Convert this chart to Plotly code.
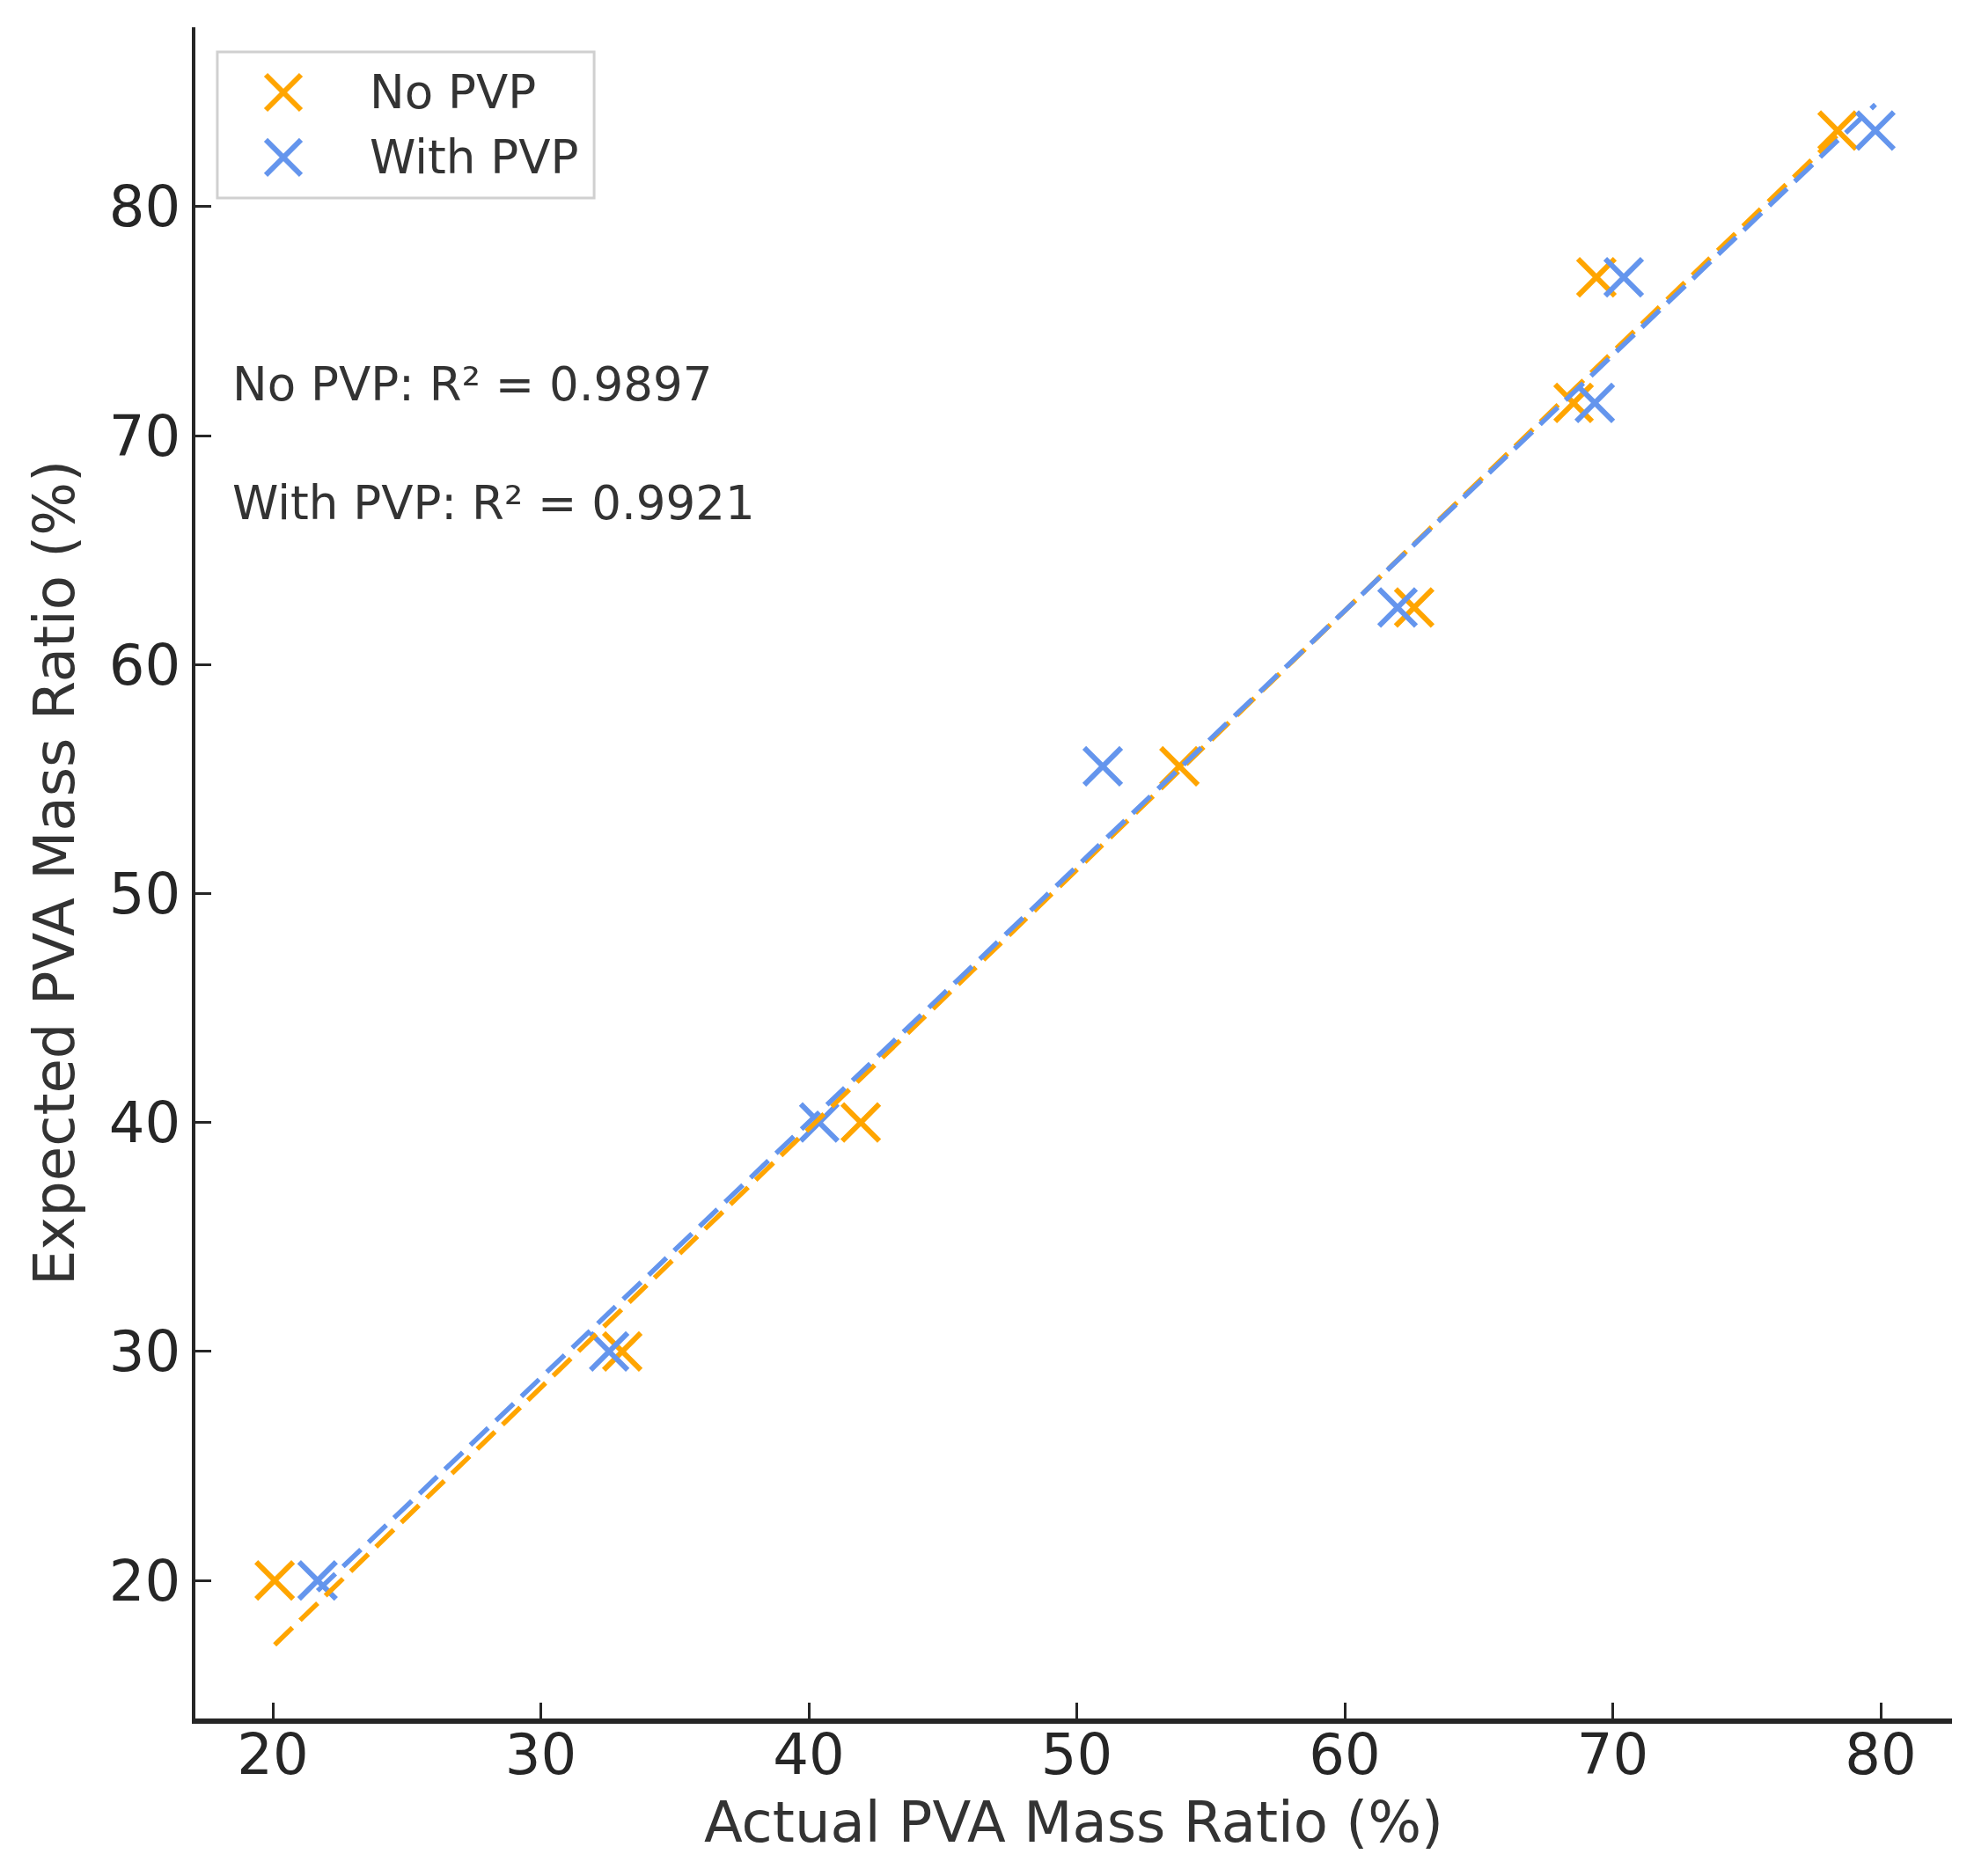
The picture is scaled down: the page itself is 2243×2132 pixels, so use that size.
import numpy as np
import plotly.graph_objects as go

# expected PVA mass ratio (%), same for both series
expected = [20.0, 30.0, 40.0, 55.56, 62.5, 71.43, 76.92, 83.33]
# actual PVA mass ratio (%)
actual_no_pvp = [20.07, 33.04, 41.94, 53.83, 62.59, 68.54, 69.39, 78.39]
actual_with_pvp = [21.67, 32.55, 40.39, 50.97, 61.97, 69.33, 70.41, 79.80]

series_names = ["No PVP", "With PVP"]
r2_labels = ["No PVP: R² = 0.9897", "With PVP: R² = 0.9921"]

ORANGE = "#FFA500"
BLUE = "#6495ED"
TXT = "#333333"
AX = "#262626"
FONT = "DejaVu Sans"

fig = go.Figure()

for name, xs, col in zip(series_names, [actual_no_pvp, actual_with_pvp], [ORANGE, BLUE]):
    fig.add_trace(go.Scatter(x=xs, y=expected, mode="markers", name=name, showlegend=False,
                             marker=dict(symbol="x-thin", size=42, color=col,
                                         line=dict(width=6, color=col))))

# least-squares fit lines, drawn on top of the markers
for xs, col in [(actual_no_pvp, ORANGE), (actual_with_pvp, BLUE)]:
    xa = np.array(xs)
    k, b = np.polyfit(xa, np.array(expected), 1)
    xl = np.array([xa.min(), xa.max()])
    fig.add_trace(go.Scatter(x=xl, y=k * xl + b, mode="lines", showlegend=False,
                             line=dict(color=col, width=5.5, dash="28px,12px")))

for txt, yy in zip(r2_labels, [0.789, 0.7186]):
    fig.add_annotation(text=txt, xref="paper", yref="paper", x=0.02, y=yy,
                       xanchor="left", yanchor="middle", showarrow=False,
                       font=dict(size=53, color=TXT, family=FONT))

# hand-made legend (plotly caps legend marker size, the original has big X's)
fig.add_shape(type="rect", xref="paper", yref="paper", x0=0.0125, x1=0.227,
              y0=0.899, y1=0.9854, line=dict(color="#d0d0d0", width=3),
              fillcolor="rgba(255,255,255,0.8)", layer="above")
for name, col, yy in zip(series_names, [ORANGE, BLUE], [0.9615, 0.923]):
    for sgn in (1, -1):
        fig.add_shape(type="line", xref="paper", yref="paper",
                      xsizemode="pixel", ysizemode="pixel",
                      xanchor=0.0501, yanchor=yy,
                      x0=-20, x1=20, y0=-20 * sgn, y1=20 * sgn,
                      line=dict(color=col, width=6), layer="above")
    fig.add_annotation(text=name, xref="paper", yref="paper", x=0.0982, y=yy,
                       xanchor="left", yanchor="middle", showarrow=False,
                       font=dict(size=53, color=TXT, family=FONT))

axis_common = dict(showgrid=False, zeroline=False, showline=True, linecolor=AX,
                   ticks="inside", ticklen=18, tickwidth=3, tickcolor=AX,
                   tickfont=dict(size=64, color=AX, family=FONT),
                   tickvals=[20, 30, 40, 50, 60, 70, 80], mirror=False)

fig.update_xaxes(range=[17.11, 82.66], linewidth=6, ticklabelstandoff=-20,
                 title=dict(text="Actual PVA Mass Ratio (%)", standoff=20,
                            font=dict(size=64, color=TXT, family=FONT)),
                 **axis_common)
fig.update_yaxes(range=[13.97, 87.84], linewidth=4,
                 title=dict(text="Expected PVA Mass Ratio (%)", standoff=19,
                            font=dict(size=64, color=TXT, family=FONT)),
                 **axis_common)

fig.update_layout(
    width=2243, height=2132,
    paper_bgcolor="white", plot_bgcolor="white",
    margin=dict(l=214, r=33, t=23, b=187),
    font=dict(family=FONT, color=TXT),
    showlegend=False,
)

fig.write_html("out.html")
